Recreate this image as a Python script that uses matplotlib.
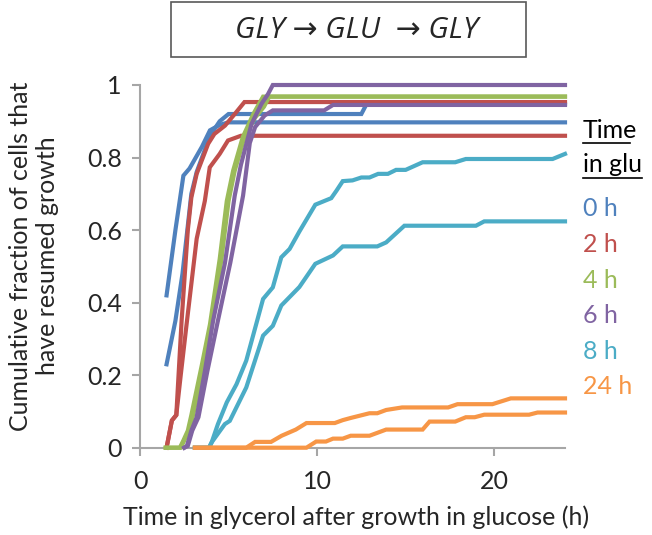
import matplotlib
matplotlib.use('Agg')
import matplotlib.pyplot as plt
import matplotlib.lines as mlines
import matplotlib.patches as mpatches

plt.rcParams['font.family'] = ['Lato', 'DejaVu Sans']

# time (h) and cumulative fraction, two replicates per time in glucose
t_0h_a = [1.5, 2.0, 2.45, 2.8, 3.5, 3.95, 4.5, 5.0, 24.0]
y_0h_a = [0.42, 0.60, 0.75, 0.77, 0.83, 0.875, 0.89, 0.897, 0.897]
t_0h_b = [1.5, 2.0, 2.4, 2.9, 3.2, 3.5, 3.95, 4.5, 5.0, 12.5, 12.8, 24.0]
y_0h_b = [0.23, 0.35, 0.48, 0.70, 0.76, 0.80, 0.86, 0.90, 0.92, 0.92, 0.948, 0.948]

t_2h_a = [1.5, 1.8, 2.05, 2.35, 2.7, 2.9, 3.2, 3.85, 4.2, 4.8, 5.35, 5.9, 24.0]
y_2h_a = [0.0, 0.075, 0.09, 0.35, 0.60, 0.69, 0.755, 0.838, 0.865, 0.888, 0.92, 0.953, 0.953]
t_2h_b = [1.5, 1.8, 2.05, 2.3, 2.63, 3.2, 3.66, 3.94, 4.5, 4.97, 5.7, 24.0]
y_2h_b = [0.0, 0.075, 0.09, 0.2, 0.34, 0.576, 0.68, 0.773, 0.81, 0.847, 0.86, 0.86]

t_4h_a = [1.45, 2.25, 2.45, 2.7, 2.9, 3.5, 3.95, 4.5, 4.9, 5.26, 5.8, 6.4, 6.95, 24.0]
y_4h_a = [0.0, 0.0, 0.02, 0.047, 0.09, 0.23, 0.34, 0.52, 0.68, 0.764, 0.856, 0.92, 0.968, 0.968]
t_4h_b = [1.45, 2.3, 2.5, 2.75, 3.0, 3.6, 4.05, 4.6, 5.0, 5.35, 5.9, 6.5, 7.0, 7.3, 24.0]
y_4h_b = [0.0, 0.0, 0.02, 0.047, 0.09, 0.23, 0.34, 0.52, 0.68, 0.764, 0.856, 0.91, 0.94, 0.968, 0.968]

t_6h_a = [2.5, 2.65, 2.9, 3.2, 3.66, 4.13, 4.8, 5.35, 5.7, 6.3, 6.86, 7.23, 7.5, 24.0]
y_6h_a = [0.0, 0.005, 0.047, 0.084, 0.21, 0.35, 0.51, 0.695, 0.78, 0.893, 0.948, 0.975, 1.0, 1.0]
t_6h_b = [2.5, 2.7, 2.95, 3.3, 3.8, 4.4, 5.1, 5.82, 6.2, 6.5, 7.04, 7.5, 10.4, 10.9, 24.0]
y_6h_b = [0.0, 0.005, 0.047, 0.084, 0.21, 0.35, 0.51, 0.695, 0.84, 0.884, 0.916, 0.93, 0.93, 0.945, 0.945]

t_8h_a = [3.1, 3.9, 4.05, 4.4, 4.9, 5.45, 6.0, 6.95, 7.5, 7.98, 8.45, 9.0, 9.9, 10.8,
          11.1, 11.45, 12.0, 12.5, 12.96, 13.45, 14.0, 14.46, 15.0, 15.96, 17.8, 18.4, 23.3, 24.0]
y_8h_a = [0.0, 0.0, 0.015, 0.065, 0.125, 0.175, 0.24, 0.41, 0.442, 0.525, 0.548, 0.596, 0.67, 0.688,
          0.709, 0.735, 0.737, 0.745, 0.745, 0.755, 0.755, 0.766, 0.766, 0.787, 0.787, 0.796, 0.796, 0.81]
t_8h_b = [3.1, 3.9, 4.05, 4.79, 5.07, 6.0, 6.95, 7.5, 7.98, 9.0, 9.9, 10.9, 11.45, 13.4, 13.9,
          14.93, 18.97, 19.44, 24.0]
y_8h_b = [0.0, 0.0, 0.015, 0.065, 0.074, 0.166, 0.309, 0.336, 0.392, 0.443, 0.507, 0.53, 0.555, 0.555, 0.566,
          0.612, 0.612, 0.624, 0.624]

t_24h_a = [3.1, 6.0, 6.5, 7.4, 8.0, 8.8, 9.4, 11.0, 11.45, 11.9, 12.96, 13.4, 13.9, 14.8,
           17.4, 17.93, 19.9, 20.94, 24.0]
y_24h_a = [0.0, 0.0, 0.016, 0.016, 0.033, 0.05, 0.068, 0.068, 0.076, 0.082, 0.095, 0.095, 0.104, 0.111,
           0.111, 0.12, 0.12, 0.136, 0.136]
t_24h_b = [3.1, 9.4, 9.95, 10.5, 10.9, 11.45, 11.9, 12.96, 13.9, 15.96, 16.35, 17.8, 18.4, 18.9,
           19.44, 21.97, 22.45, 24.0]
y_24h_b = [0.0, 0.0, 0.017, 0.017, 0.025, 0.025, 0.033, 0.033, 0.05, 0.05, 0.072, 0.072, 0.084, 0.084,
           0.091, 0.091, 0.097, 0.097]

labels = ['0 h', '2 h', '4 h', '6 h', '8 h', '24 h']
colors = ['#4F81BD', '#C0504D', '#9BBB59', '#8064A2', '#4BACC6', '#F79646']
series = [
    [(t_0h_a, y_0h_a), (t_0h_b, y_0h_b)],
    [(t_2h_a, y_2h_a), (t_2h_b, y_2h_b)],
    [(t_4h_a, y_4h_a), (t_4h_b, y_4h_b)],
    [(t_6h_a, y_6h_a), (t_6h_b, y_6h_b)],
    [(t_8h_a, y_8h_a), (t_8h_b, y_8h_b)],
    [(t_24h_a, y_24h_a), (t_24h_b, y_24h_b)],
]

W, H = 652, 535
FS = 18
fig = plt.figure(figsize=(W / 100, H / 100), dpi=100)
ax = fig.add_axes([140 / W, (H - 447.7) / H, 425 / W, 362.7 / H])

for i in range(len(series)):
    for t, y in series[i]:
        ax.plot(t, y, color=colors[i], lw=3, solid_joinstyle='miter', clip_on=False, zorder=3)

ax.set_xlim(0, 24)
ax.set_ylim(0, 1)
ax.set_xticks([0, 10, 20])
ax.set_yticks([0, 0.2, 0.4, 0.6, 0.8, 1.0])
ax.set_yticklabels(['0', '0.2', '0.4', '0.6', '0.8', '1'])
for s in ['top', 'right']:
    ax.spines[s].set_visible(False)
for s in ['left', 'bottom']:
    ax.spines[s].set_color('#A6A6A6')
    ax.spines[s].set_linewidth(1.5)
ax.tick_params(axis='both', direction='out', length=6, width=1.5, color='#A6A6A6',
               labelsize=FS, labelcolor='#262626')
ax.tick_params(axis='y', pad=7)
ax.tick_params(axis='x', pad=10)

fig.text(356 / W, 1 - 517 / H, 'Time in glycerol after growth in glucose (h)',
         ha='center', va='center', fontsize=FS, color='#262626')
fig.text(34 / W, 1 - 256 / H, 'Cumulative fraction of cells that\nhave resumed growth',
         ha='center', va='center', rotation=90, fontsize=FS, color='#262626',
         multialignment='center', linespacing=1.2)

# title box
fig.patches.append(mpatches.Rectangle((171 / W, 1 - 57 / H), 355 / W, 55 / H,
                                      transform=fig.transFigure, fill=False,
                                      edgecolor='#595959', lw=1.2))
fig.text(357 / W, 1 - 30 / H, 'GLY \u2192 GLU  \u2192 GLY', ha='center', va='center',
         fontsize=21.5, style='italic', family=['Open Sans', 'DejaVu Sans'], color='#262626')

# key on the right
fig.text(583 / W, 1 - 131 / H, 'Time', ha='left', va='center', fontsize=FS, color='black')
fig.text(583 / W, 1 - 164 / H, 'in glu', ha='left', va='center', fontsize=FS, color='black')
fig.lines.append(mlines.Line2D([583 / W, 630 / W], [1 - 143 / H, 1 - 143 / H],
                               transform=fig.transFigure, color='black', lw=1.2))
fig.lines.append(mlines.Line2D([583 / W, 642 / W], [1 - 178 / H, 1 - 178 / H],
                               transform=fig.transFigure, color='black', lw=1.2))
for i in range(len(labels)):
    fig.text(583 / W, 1 - (209 + 35.6 * i) / H, labels[i], ha='left', va='center',
             fontsize=FS, color=colors[i])

fig.savefig('out.png', dpi=100)
